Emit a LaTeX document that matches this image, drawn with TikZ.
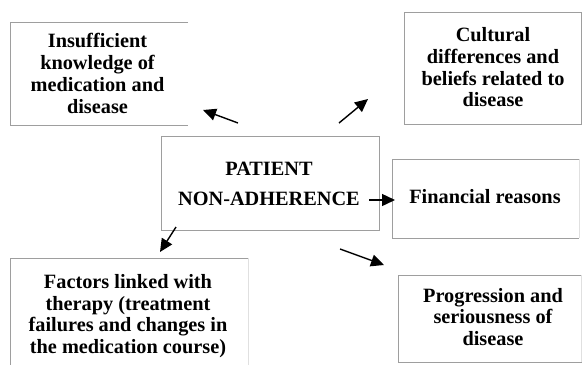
\documentclass[tikz,border=0pt]{standalone}
\usepackage{fontspec}
\setmainfont{Liberation Serif}
\usetikzlibrary{arrows.meta}
\tikzset{
  frame/.style={draw=none, inner sep=0pt, outer sep=0pt},
  side/.style={draw=black!38, line width=1pt},
  faint/.style={draw=black!12, line width=1pt},
  txt/.style={align=center, inner sep=0pt, font=\bfseries\fontsize{20.3}{21.7}\selectfont},
  arr/.style={line width=1.4pt, -{Triangle[length=13pt,width=12pt]}}
}
\newcommand{\boxat}[5]{%
  \node[frame, minimum width=#4-#2, minimum height=#5-#3, anchor=north west] (#1) at (#2,#3) {};}
\begin{document}
\begin{tikzpicture}[x=1pt,y=-1pt]
\useasboundingbox (0,0) rectangle (583,364);
% boxes
\boxat{b1}{10}{22}{188}{125}
\boxat{b2}{404}{12}{581.5}{124}
\boxat{c}{161}{136}{379}{230}
\boxat{fin}{392}{159}{579}{238}
\boxat{fac}{10}{258}{248}{370}
\boxat{pro}{398}{275}{581.5}{362}
% borders
\draw[side] (b1.north east) -- (b1.north west) -- (b1.south west) -- (b1.south east);
\foreach \b in {b2,c}{
  \draw[side] (\b.north west) rectangle (\b.south east);
}
\foreach \b in {fin,pro}{
  \draw[side] (\b.north east) -- (\b.north west) -- (\b.south west) -- (\b.south east);
  \draw[faint] (\b.north east) -- (\b.south east);
}
\draw[side] (fac.south west) -- (fac.north west) -- (fac.north east);
\draw[faint] (fac.north east) -- (fac.south east);
% texts
\node[txt] (t1) at (97.5,73.5) {Insufficient\\knowledge of\\medication and\\disease};
\node[txt] (t2) at (493,67.5) {Cultural\\differences and\\beliefs related to\\disease};
\node[txt] (tc) at (269,183.5) {PATIENT\\[8.3pt]NON-ADHERENCE};
\node[txt] (tf) at (485,197) {Financial reasons};
\node[txt] (tfa) at (128,316) {Factors linked with\\therapy (treatment\\failures and changes in\\the medication course)};
\node[txt] (tp) at (493,317) {Progression and\\seriousness of\\disease};
% arrow ends
\coordinate (s1) at (238,123); \coordinate (e1) at (203,110);
\coordinate (s2) at (339,123); \coordinate (e2) at (368,99);
\coordinate (s3) at (176,227); \coordinate (e3) at (160,252);
\coordinate (s4) at (369,200); \coordinate (e4) at (395,200);
\coordinate (s5) at (340,249); \coordinate (e5) at (384,265);
\foreach \i in {1,...,5}{\draw[arr] (s\i) -- (e\i);}
\end{tikzpicture}
\end{document}
